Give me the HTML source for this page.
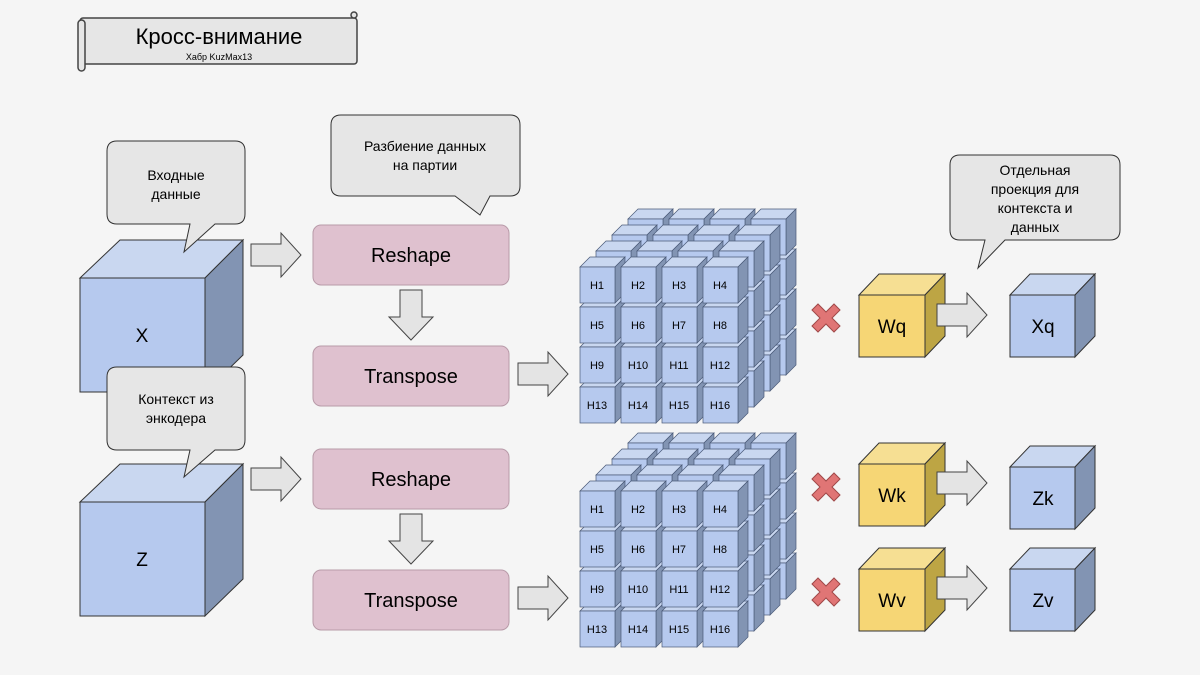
<!DOCTYPE html>
<html><head><meta charset="utf-8"><style>
body{margin:0;background:#f5f5f5;}
svg{display:block;font-family:"Liberation Sans",sans-serif;}
</style></head><body>
<svg id="s" width="1200" height="675" viewBox="0 0 1200 675" xmlns="http://www.w3.org/2000/svg">
<rect width="1200" height="675" fill="#f5f5f5"/>
<defs>
<g id="arr"><polygon points="0,11 30,11 30,0 50,22 30,44 30,33 0,33" fill="#e4e4e4" stroke="#444" stroke-width="1"/></g>
<g id="darr"><polygon points="11,0 33,0 33,27 44,27 22,50 0,27 11,27" fill="#e4e4e4" stroke="#444" stroke-width="1"/></g>
<g id="x"><polygon points="-14,-8 -8,-14 0,-6 8,-14 14,-8 6,0 14,8 8,14 0,6 -8,14 -14,8 -6,0" fill="#e07575" stroke="#a04848" stroke-width="1"/></g>
</defs>
<rect x="80" y="18" width="277" height="46" rx="3" fill="#e6e6e6" stroke="#444" stroke-width="1.5"/>
<rect x="78" y="20" width="7" height="51" rx="3.5" fill="#e6e6e6" stroke="#444" stroke-width="1.5"/>
<circle cx="354" cy="15" r="3" fill="#e6e6e6" stroke="#444" stroke-width="1.5"/>
<text x="219" y="44" font-size="22" text-anchor="middle">Кросс-внимание</text>
<text x="219" y="60" font-size="9" text-anchor="middle">Хабр KuzMax13</text>

<polygon points="80,278 120,240 243,240 205,278" fill="#c9d7f0" stroke="#333"/>
<polygon points="205,278 243,240 243,355 205,392" fill="#8294b3" stroke="#333"/>
<rect x="80" y="278" width="125" height="114" fill="#b6c9ee" stroke="#333"/>
<text x="142" y="342" font-size="19" text-anchor="middle">X</text>
<polygon points="80,502 120,464 243,464 205,502" fill="#c9d7f0" stroke="#333"/>
<polygon points="205,502 243,464 243,579 205,616" fill="#8294b3" stroke="#333"/>
<rect x="80" y="502" width="125" height="114" fill="#b6c9ee" stroke="#333"/>
<text x="142" y="566" font-size="19" text-anchor="middle">Z</text>

<g fill="#e6e6e6" stroke="#333" stroke-width="1">
<path d="M117,141 H235 Q245,141 245,151 V214 Q245,224 235,224 H215 L184,252 L190,224 H117 Q107,224 107,214 V151 Q107,141 117,141 Z"/>
<path d="M117,367 H235 Q245,367 245,377 V440 Q245,450 235,450 H215 L184,477 L190,450 H117 Q107,450 107,440 V377 Q107,367 117,367 Z"/>
<path d="M341,115 H510 Q520,115 520,125 V186 Q520,196 510,196 H490 L480,215 L455,196 H341 Q331,196 331,186 V125 Q331,115 341,115 Z"/>
<path d="M960,155 H1110 Q1120,155 1120,165 V230 Q1120,240 1110,240 H1005 L978,268 L985,240 H960 Q950,240 950,230 V165 Q950,155 960,155 Z"/>
</g>
<g font-size="14" text-anchor="middle">
<text x="176" y="180">Входные</text><text x="176" y="199">данные</text>
<text x="176" y="404">Контекст из</text><text x="176" y="423">энкодера</text>
<text x="425" y="151">Разбиение данных</text><text x="425" y="170">на партии</text>
<text x="1035" y="175">Отдельная</text><text x="1035" y="194">проекция для</text><text x="1035" y="213">контекста и</text><text x="1035" y="232">данных</text>
</g>

<g fill="#dfc1cf" stroke="#b89aa8" stroke-width="1">
<rect x="313" y="225" width="196" height="60" rx="8"/>
<rect x="313" y="346" width="196" height="60" rx="8"/>
<rect x="313" y="449" width="196" height="60" rx="8"/>
<rect x="313" y="570" width="196" height="60" rx="8"/>
</g>
<g font-size="20" text-anchor="middle">
<text x="411" y="262">Reshape</text>
<text x="411" y="383">Transpose</text>
<text x="411" y="486">Reshape</text>
<text x="411" y="607">Transpose</text>
</g>
<use href="#darr" x="389" y="290"/>
<use href="#darr" x="389" y="514"/>
<use href="#arr" x="251" y="233"/>
<use href="#arr" x="251" y="457"/>
<use href="#arr" x="518" y="352"/>
<use href="#arr" x="518" y="576"/>

<g id="grids"></g>

<use href="#x" x="826" y="318"/>
<use href="#x" x="826" y="487"/>
<use href="#x" x="826" y="592"/>

<g stroke="#333" stroke-width="1">
<polygon points="859,295 879,274 945,274 925,295" fill="#f6df93"/>
<polygon points="925,295 945,274 945,336 925,357" fill="#bda544"/>
<rect x="859" y="295" width="66" height="62" fill="#f6d675"/>
<polygon points="859,464 879,443 945,443 925,464" fill="#f6df93"/>
<polygon points="925,464 945,443 945,505 925,526" fill="#bda544"/>
<rect x="859" y="464" width="66" height="62" fill="#f6d675"/>
<polygon points="859,569 879,548 945,548 925,569" fill="#f6df93"/>
<polygon points="925,569 945,548 945,610 925,631" fill="#bda544"/>
<rect x="859" y="569" width="66" height="62" fill="#f6d675"/>

<polygon points="1010,295 1030,274 1095,274 1075,295" fill="#c9d7f0"/>
<polygon points="1075,295 1095,274 1095,336 1075,357" fill="#8294b3"/>
<rect x="1010" y="295" width="65" height="62" fill="#b6c9ee"/>
<polygon points="1010,467 1030,446 1095,446 1075,467" fill="#c9d7f0"/>
<polygon points="1075,467 1095,446 1095,508 1075,529" fill="#8294b3"/>
<rect x="1010" y="467" width="65" height="62" fill="#b6c9ee"/>
<polygon points="1010,569 1030,548 1095,548 1075,569" fill="#c9d7f0"/>
<polygon points="1075,569 1095,548 1095,610 1075,631" fill="#8294b3"/>
<rect x="1010" y="569" width="65" height="62" fill="#b6c9ee"/>
</g>
<use href="#arr" x="937" y="293"/>
<use href="#arr" x="937" y="461"/>
<use href="#arr" x="937" y="566"/>
<g font-size="19" text-anchor="middle">
<text x="892" y="333">Wq</text><text x="892" y="502">Wk</text><text x="892" y="607">Wv</text>
<text x="1043" y="333">Xq</text><text x="1043" y="505">Zk</text><text x="1043" y="607">Zv</text>
</g>

<g id="labels" font-size="11" text-anchor="middle">
<text x="597" y="289">H1</text><text x="638" y="289">H2</text><text x="679" y="289">H3</text><text x="720" y="289">H4</text>
<text x="597" y="329">H5</text><text x="638" y="329">H6</text><text x="679" y="329">H7</text><text x="720" y="329">H8</text>
<text x="597" y="369">H9</text><text x="638" y="369">H10</text><text x="679" y="369">H11</text><text x="720" y="369">H12</text>
<text x="597" y="409">H13</text><text x="638" y="409">H14</text><text x="679" y="409">H15</text><text x="720" y="409">H16</text>
<text x="597" y="513">H1</text><text x="638" y="513">H2</text><text x="679" y="513">H3</text><text x="720" y="513">H4</text>
<text x="597" y="553">H5</text><text x="638" y="553">H6</text><text x="679" y="553">H7</text><text x="720" y="553">H8</text>
<text x="597" y="593">H9</text><text x="638" y="593">H10</text><text x="679" y="593">H11</text><text x="720" y="593">H12</text>
<text x="597" y="633">H13</text><text x="638" y="633">H14</text><text x="679" y="633">H15</text><text x="720" y="633">H16</text>
</g>
</svg>
<script>
var g=document.getElementById('grids'),h='';
[0,224].forEach(function(oy){
 for(var d=3;d>=0;d--)for(var r=3;r>=0;r--)for(var c=0;c<4;c++){
  var x=580+41*c+16*d,y=267+40*r-16*d+oy;
  h+='<polygon points="'+x+','+y+' '+(x+10)+','+(y-10)+' '+(x+45)+','+(y-10)+' '+(x+35)+','+y+'" fill="#c9d7f0" stroke="#4a5a78" stroke-width="0.7"/>';
  h+='<polygon points="'+(x+35)+','+y+' '+(x+45)+','+(y-10)+' '+(x+45)+','+(y+26)+' '+(x+35)+','+(y+36)+'" fill="#8294b3" stroke="#4a5a78" stroke-width="0.7"/>';
  h+='<rect x="'+x+'" y="'+y+'" width="35" height="36" fill="#b6c9ee" stroke="#4a5a78" stroke-width="0.7"/>';
 }
});
g.innerHTML=h;
</script>
</body></html>
